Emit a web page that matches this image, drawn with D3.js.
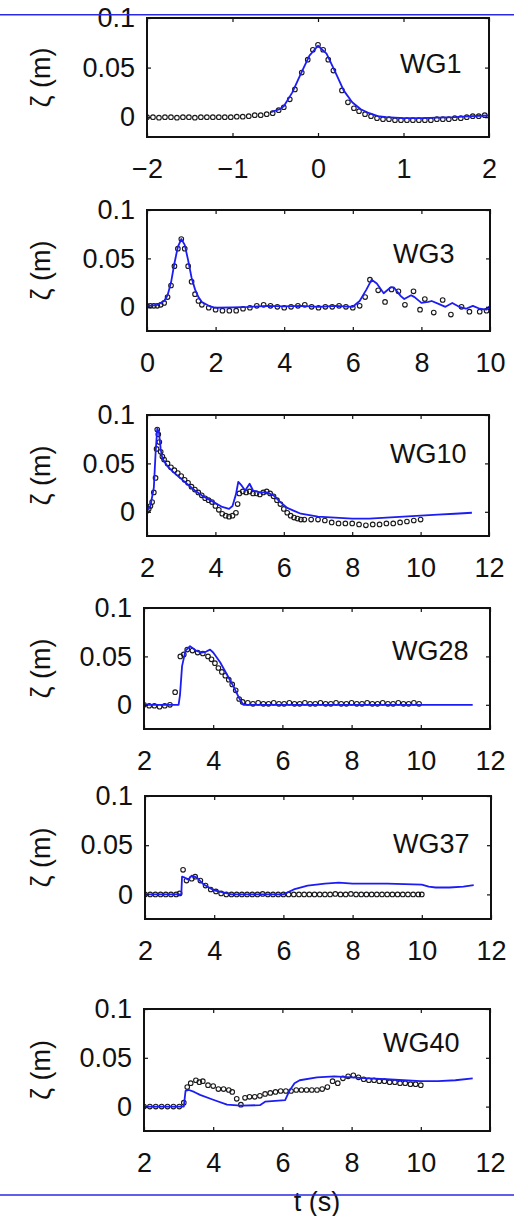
<!DOCTYPE html>
<html>
<head>
<meta charset="utf-8">
<script src="https://cdn.jsdelivr.net/npm/d3@7/dist/d3.min.js"></script>
<style>
  html, body { margin: 0; padding: 0; background: #fff; }
  svg { display: block; }
  text { font-family: "Liberation Sans", Arial, Helvetica, sans-serif; fill: #111; }
</style>
</head>
<body>
<svg id="chart" width="514" height="1216"></svg>
<script>
// ---- gauge names and axis settings ----
const gauges = ["WG1", "WG3", "WG10", "WG28", "WG37", "WG40"];
const xDomains = [[-2, 2], [0, 10], [2, 12], [2, 12], [2, 12], [2, 12]];
const yDomains = [[-0.02, 0.1], [-0.025, 0.1], [-0.025, 0.1], [-0.025, 0.1], [-0.025, 0.1], [-0.025, 0.1]];
const xTickValues = [[-2, -1, 0, 1, 2], [0, 2, 4, 6, 8, 10], [2, 4, 6, 8, 10, 12], [2, 4, 6, 8, 10, 12], [2, 4, 6, 8, 10, 12], [2, 4, 6, 8, 10, 12]];
const yTickValues = [0, 0.05, 0.1];
const yAxisLabel = "ζ (m)";
const xAxisLabel = "t (s)";

// ---- free-surface elevation: model (line) and measurement (circles), [t, zeta] ----
const wg1Model = [[-0.55,0.005],[-0.45,0.008],[-0.4,0.011],[-0.3,0.025],[-0.2,0.044],[-0.1,0.062],[0,0.072],[0.1,0.064],[0.2,0.046],[0.3,0.027],[0.4,0.015],[0.5,0.008],[0.6,0.004],[0.7,0.001],[0.8,0],[1.0,-0.001],[1.2,-0.001],[1.4,-0.0005],[1.6,0],[1.8,0.001],[2.0,0.0017]];
const wg1Measured = [[-2,0],[-1.93,0],[-1.86,-0.0005],[-1.79,0],[-1.72,0],[-1.65,-0.0005],[-1.58,0],[-1.51,0],[-1.44,-0.0005],[-1.37,0],[-1.3,0],[-1.23,0],[-1.16,0],[-1.09,0],[-1.02,0],[-0.95,0.0005],[-0.88,0.0005],[-0.81,0.001],[-0.74,0.002],[-0.67,0.002],[-0.6,0.003],[-0.53,0.004],[-0.46,0.007],[-0.4,0.01],[-0.33,0.018],[-0.27,0.028],[-0.19,0.045],[-0.12,0.058],[-0.06,0.068],[0,0.073],[0.06,0.068],[0.12,0.058],[0.18,0.047],[0.28,0.027],[0.35,0.015],[0.42,0.009],[0.48,0.006],[0.55,0.003],[0.62,0.001],[0.69,-0.001],[0.76,-0.002],[0.83,-0.002],[0.9,-0.003],[0.97,-0.003],[1.04,-0.003],[1.11,-0.003],[1.18,-0.003],[1.25,-0.003],[1.32,-0.003],[1.39,-0.002],[1.46,-0.002],[1.53,-0.002],[1.6,-0.001],[1.67,-0.001],[1.74,0],[1.81,0.001],[1.88,0.001],[1.95,0.002]];

const wg3Model = [[0,0.001],[0.3,0.002],[0.5,0.006],[0.6,0.012],[0.7,0.025],[0.8,0.045],[0.9,0.062],[1.0,0.070],[1.1,0.064],[1.2,0.048],[1.3,0.030],[1.4,0.018],[1.5,0.010],[1.6,0.005],[1.8,0.001],[2.0,-0.001],[2.5,-0.0005],[3.0,0],[3.5,0.001],[4.0,0.0005],[4.5,0.001],[5.0,0],[5.5,0.001],[6.0,0],[6.2,0.006],[6.4,0.018],[6.55,0.028],[6.7,0.024],[6.9,0.014],[7.1,0.020],[7.2,0.020],[7.4,0.011],[7.5,0.008],[7.7,0.012],[7.8,0.010],[8.0,0.004],[8.2,0.005],[8.3,0.006],[8.5,0.003],[8.7,0],[8.9,0.004],[9.1,0],[9.3,-0.002],[9.5,0.001],[9.7,-0.002],[9.9,-0.003],[10,0.001]];
const wg3Measured = [[0,0.001],[0.1,0.001],[0.2,0.001],[0.3,0.001],[0.4,0.002],[0.5,0.004],[0.6,0.010],[0.7,0.022],[0.8,0.042],[0.9,0.060],[1.0,0.070],[1.1,0.060],[1.2,0.042],[1.3,0.026],[1.4,0.013],[1.5,0.006],[1.6,0.002],[1.8,-0.001],[2.0,-0.003],[2.2,-0.004],[2.4,-0.004],[2.6,-0.004],[2.8,-0.002],[3.0,-0.001],[3.2,0.001],[3.4,0.002],[3.6,0.001],[3.8,0],[4.0,-0.001],[4.2,0],[4.4,0.001],[4.6,0.002],[4.8,0],[5.0,-0.001],[5.2,0],[5.4,0],[5.6,0.001],[5.8,0],[6.0,-0.001],[6.2,0.001],[6.36,0.010],[6.5,0.028],[6.74,0.017],[6.94,0.005],[7.13,0.018],[7.33,0.016],[7.52,0.002],[7.77,0.016],[7.96,-0.003],[8.1,0.008],[8.36,-0.006],[8.62,0.007],[8.86,-0.008],[9.17,0],[9.4,-0.005],[9.7,-0.005],[9.9,-0.004]];

const wg10Model = [[2.0,0.002],[2.1,0.006],[2.2,0.025],[2.25,0.06],[2.3,0.086],[2.35,0.082],[2.4,0.065],[2.45,0.055],[2.6,0.047],[2.8,0.040],[3.0,0.034],[3.2,0.028],[3.4,0.022],[3.6,0.017],[3.9,0.011],[4.2,0.005],[4.4,0.003],[4.5,0.006],[4.6,0.018],[4.67,0.031],[4.77,0.027],[4.87,0.022],[5.0,0.029],[5.1,0.022],[5.3,0.020],[5.5,0.020],[5.7,0.017],[5.9,0.010],[6.1,0.004],[6.3,0.001],[6.5,-0.002],[7.0,-0.005],[7.5,-0.006],[8.0,-0.007],[8.5,-0.007],[9.0,-0.006],[9.5,-0.005],[10.0,-0.004],[10.5,-0.003],[11.0,-0.002],[11.5,-0.001]];
const wg10Measured = [[2.0,0.001],[2.05,0.003],[2.1,0.006],[2.15,0.010],[2.2,0.020],[2.25,0.035],[2.28,0.065],[2.3,0.085],[2.33,0.080],[2.36,0.072],[2.4,0.062],[2.45,0.057],[2.5,0.054],[2.6,0.050],[2.7,0.046],[2.8,0.043],[2.9,0.040],[3.0,0.037],[3.1,0.033],[3.2,0.030],[3.3,0.026],[3.4,0.023],[3.5,0.020],[3.6,0.017],[3.7,0.014],[3.8,0.012],[3.9,0.010],[4.0,0.006],[4.1,0.002],[4.2,-0.002],[4.3,-0.004],[4.4,-0.005],[4.5,-0.004],[4.6,-0.001],[4.65,0.008],[4.7,0.019],[4.8,0.021],[4.9,0.020],[5.0,0.021],[5.1,0.019],[5.2,0.019],[5.3,0.018],[5.4,0.020],[5.5,0.021],[5.6,0.019],[5.7,0.016],[5.8,0.012],[5.9,0.008],[6.0,0.003],[6.1,-0.001],[6.2,-0.004],[6.3,-0.006],[6.4,-0.007],[6.5,-0.008],[6.6,-0.008],[6.8,-0.008],[7.0,-0.008],[7.2,-0.009],[7.4,-0.011],[7.6,-0.012],[7.8,-0.012],[8.0,-0.012],[8.2,-0.013],[8.4,-0.014],[8.6,-0.013],[8.8,-0.013],[9.0,-0.012],[9.2,-0.012],[9.4,-0.011],[9.6,-0.010],[9.8,-0.009],[10.0,-0.008]];

const wg28Model = [[2.0,0],[3.0,0],[3.04,0.010],[3.1,0.040],[3.2,0.056],[3.33,0.0605],[3.5,0.056],[3.67,0.054],[3.8,0.055],[3.91,0.057],[4.0,0.054],[4.2,0.044],[4.4,0.031],[4.6,0.018],[4.75,0.007],[4.87,0],[5.0,0],[11.5,0]];
const wg28Measured = [[2.0,0],[2.15,-0.001],[2.3,-0.001],[2.45,-0.002],[2.6,-0.001],[2.75,0],[2.9,0.013],[3.05,0.050],[3.15,0.052],[3.25,0.057],[3.4,0.056],[3.55,0.054],[3.7,0.053],[3.85,0.050],[3.95,0.047],[4.05,0.043],[4.15,0.038],[4.25,0.034],[4.35,0.030],[4.45,0.026],[4.55,0.021],[4.65,0.015],[4.75,0.006],[4.85,0.003],[5.0,0.002],[5.15,0.001],[5.3,0.002],[5.45,0.001],[5.6,0.001],[5.75,0.002],[5.9,0.001],[6.05,0.001],[6.2,0.002],[6.35,0.001],[6.5,0.001],[6.65,0.002],[6.8,0.001],[6.95,0.001],[7.1,0.002],[7.25,0.001],[7.4,0.001],[7.55,0.002],[7.7,0.001],[7.85,0.001],[8.0,0.002],[8.15,0.001],[8.3,0.001],[8.45,0.002],[8.6,0.001],[8.75,0.001],[8.9,0.002],[9.05,0.001],[9.2,0.001],[9.35,0.002],[9.5,0.001],[9.65,0.001],[9.8,0.002],[9.95,0.001]];

const wg37Model = [[2.0,0],[3.05,0],[3.07,0.018],[3.15,0.017],[3.25,0.015],[3.35,0.019],[3.5,0.017],[3.7,0.010],[4.0,0.004],[4.5,0],[5.0,0],[6.0,0],[6.3,0.005],[6.7,0.009],[7.2,0.011],[7.6,0.012],[8.0,0.011],[9.0,0.011],[10.0,0.010],[10.2,0.008],[10.4,0.007],[10.8,0.007],[11.2,0.008],[11.5,0.0095]];
const wg37Measured = [[2.0,0],[2.15,0],[2.3,0],[2.45,0],[2.6,0],[2.75,0],[2.9,0],[3.0,0.001],[3.1,0.025],[3.2,0.014],[3.35,0.016],[3.45,0.018],[3.6,0.014],[3.75,0.009],[3.9,0.005],[4.05,0.003],[4.2,0.001],[4.35,0],[4.5,0],[4.65,0],[4.8,0],[4.95,0],[5.1,0],[5.25,0],[5.4,0.0005],[5.55,0],[5.7,0],[5.85,0],[6.0,0],[6.15,0],[6.3,0],[6.45,0],[6.6,0],[6.75,0],[6.9,0],[7.05,0],[7.2,0],[7.35,0],[7.5,0.0005],[7.65,0],[7.8,0],[7.95,0.0005],[8.1,0],[8.25,0],[8.4,0],[8.55,0],[8.7,0],[8.85,0],[9.0,0],[9.15,0],[9.3,0],[9.45,0],[9.6,0],[9.75,0],[9.9,0],[10.0,0]];

const wg40Model = [[2.0,0],[3.15,0],[3.2,0.016],[3.3,0.017],[3.45,0.015],[3.62,0.012],[4.0,0.007],[4.4,0.002],[4.8,0.001],[5.35,0.0015],[5.5,0.005],[6.08,0.0066],[6.2,0.016],[6.35,0.024],[6.5,0.027],[7.0,0.030],[7.5,0.031],[8.0,0.030],[8.5,0.029],[9.0,0.028],[9.5,0.027],[10.0,0.026],[10.5,0.026],[11.0,0.027],[11.5,0.029]];
const wg40Measured = [[2.0,0],[2.17,0],[2.34,0],[2.51,0],[2.68,0],[2.85,0],[3.02,0],[3.15,0.004],[3.25,0.020],[3.35,0.024],[3.5,0.027],[3.6,0.025],[3.7,0.026],[3.85,0.022],[4.0,0.021],[4.15,0.018],[4.3,0.018],[4.45,0.017],[4.55,0.015],[4.68,0.008],[4.8,0.002],[4.92,0.009],[5.05,0.010],[5.2,0.010],[5.35,0.011],[5.5,0.013],[5.65,0.014],[5.8,0.015],[5.95,0.016],[6.1,0.016],[6.25,0.016],[6.4,0.017],[6.55,0.017],[6.7,0.017],[6.85,0.017],[7.0,0.017],[7.15,0.018],[7.3,0.020],[7.45,0.026],[7.6,0.024],[7.75,0.029],[7.9,0.031],[8.05,0.032],[8.2,0.030],[8.35,0.028],[8.5,0.027],[8.65,0.027],[8.8,0.026],[8.95,0.026],[9.1,0.025],[9.25,0.025],[9.4,0.024],[9.55,0.024],[9.7,0.023],[9.85,0.023],[10.0,0.022]];

const modelSeries = [wg1Model, wg3Model, wg10Model, wg28Model, wg37Model, wg40Model];
const measuredSeries = [wg1Measured, wg3Measured, wg10Measured, wg28Measured, wg37Measured, wg40Measured];

// ---- page layout: axes frames in pixels, gauge-name offsets ----
const frames = [
  { left: 147, right: 489, top: 18,   bottom: 137 },
  { left: 147, right: 490, top: 210,  bottom: 331 },
  { left: 147, right: 489, top: 415,  bottom: 536 },
  { left: 144, right: 490, top: 608,  bottom: 729 },
  { left: 145, right: 491, top: 796,  bottom: 919 },
  { left: 144, right: 490, top: 1009, bottom: 1131 }
];
const nameOffsets = [[-89, 45], [-97, 43], [-99, 38], [-98, 42], [-98, 47], [-107, 33]];

const FONT = 27;
const LINE_BLUE = "#1c1cf5";
const svg = d3.select("#chart");

frames.forEach((f, i) => {
  const x = d3.scaleLinear().domain(xDomains[i]).range([f.left, f.right]);
  const y = d3.scaleLinear().domain(yDomains[i]).range([f.bottom, f.top]);
  const g = svg.append("g");

  const clipId = "clip" + i;
  g.append("clipPath").attr("id", clipId)
    .append("rect").attr("x", f.left).attr("y", f.top)
    .attr("width", f.right - f.left).attr("height", f.bottom - f.top);

  const plot = g.append("g").attr("clip-path", `url(#${clipId})`);

  // measured elevation: open circles
  plot.append("g").selectAll("circle").data(measuredSeries[i]).join("circle")
    .attr("cx", d => x(d[0])).attr("cy", d => y(d[1])).attr("r", 2.3)
    .attr("fill", "none").attr("stroke", "#1a1a1a").attr("stroke-width", 1.1);

  // model elevation: solid blue line
  plot.append("path").datum(modelSeries[i])
    .attr("d", d3.line().x(d => x(d[0])).y(d => y(d[1])))
    .attr("fill", "none").attr("stroke", LINE_BLUE).attr("stroke-width", 1.8)
    .attr("stroke-linejoin", "round");

  // axes with inward ticks on all four sides
  const fmtY = d => d === 0 ? "0" : d3.format("~g")(d);
  const fmtX = d3.format("d");
  const bottomAxis = d3.axisBottom(x).tickValues(xTickValues[i]).tickFormat(fmtX).tickSizeInner(-4).tickSizeOuter(0).tickPadding(22);
  const leftAxis = d3.axisLeft(y).tickValues(yTickValues).tickFormat(fmtY).tickSizeInner(-4).tickSizeOuter(0).tickPadding(12);
  const topAxis = d3.axisTop(x).tickValues(xTickValues[i]).tickSizeInner(-4).tickSizeOuter(0).tickFormat("");
  const rightAxis = d3.axisRight(y).tickValues(yTickValues).tickSizeInner(-4).tickSizeOuter(0).tickFormat("");

  const styleAxis = sel => {
    sel.select(".domain").remove();
    sel.selectAll(".tick line").attr("stroke", "#111").attr("stroke-width", 1.2);
    sel.selectAll("text").attr("font-size", FONT).attr("font-family", null).attr("fill", "#111");
  };
  g.append("g").attr("transform", `translate(0,${f.bottom})`).call(bottomAxis).call(styleAxis);
  g.append("g").attr("transform", `translate(${f.left},0)`).call(leftAxis).call(styleAxis);
  g.append("g").attr("transform", `translate(0,${f.top})`).call(topAxis).call(styleAxis);
  g.append("g").attr("transform", `translate(${f.right},0)`).call(rightAxis).call(styleAxis);

  // frame
  g.append("rect").attr("x", f.left).attr("y", f.top)
    .attr("width", f.right - f.left).attr("height", f.bottom - f.top)
    .attr("fill", "none").attr("stroke", "#111").attr("stroke-width", 2);

  // gauge name
  g.append("text").attr("x", f.right + nameOffsets[i][0]).attr("y", f.top + nameOffsets[i][1])
    .attr("dy", "0.36em").attr("font-size", FONT).text(gauges[i]);

  // y-axis title
  g.append("text")
    .attr("transform", `translate(40,${(f.top + f.bottom) / 2}) rotate(-90)`)
    .attr("text-anchor", "middle").attr("dy", "0.36em")
    .attr("font-size", FONT).text(yAxisLabel);
});

// shared time-axis title under the last panel
const last = frames[frames.length - 1];
svg.append("text").attr("x", (last.left + last.right) / 2).attr("y", 1211)
  .attr("text-anchor", "middle").attr("font-size", FONT).text(xAxisLabel);

// page rules above and below the figure
svg.append("line").attr("x1", 0).attr("x2", 514).attr("y1", 14.7).attr("y2", 14.7)
  .attr("stroke", "#2a2ae6").attr("stroke-width", 1.4);
svg.append("line").attr("x1", 0).attr("x2", 514).attr("y1", 1195).attr("y2", 1195)
  .attr("stroke", "#2a2ae6").attr("stroke-width", 1.4);
</script>
</body>
</html>
